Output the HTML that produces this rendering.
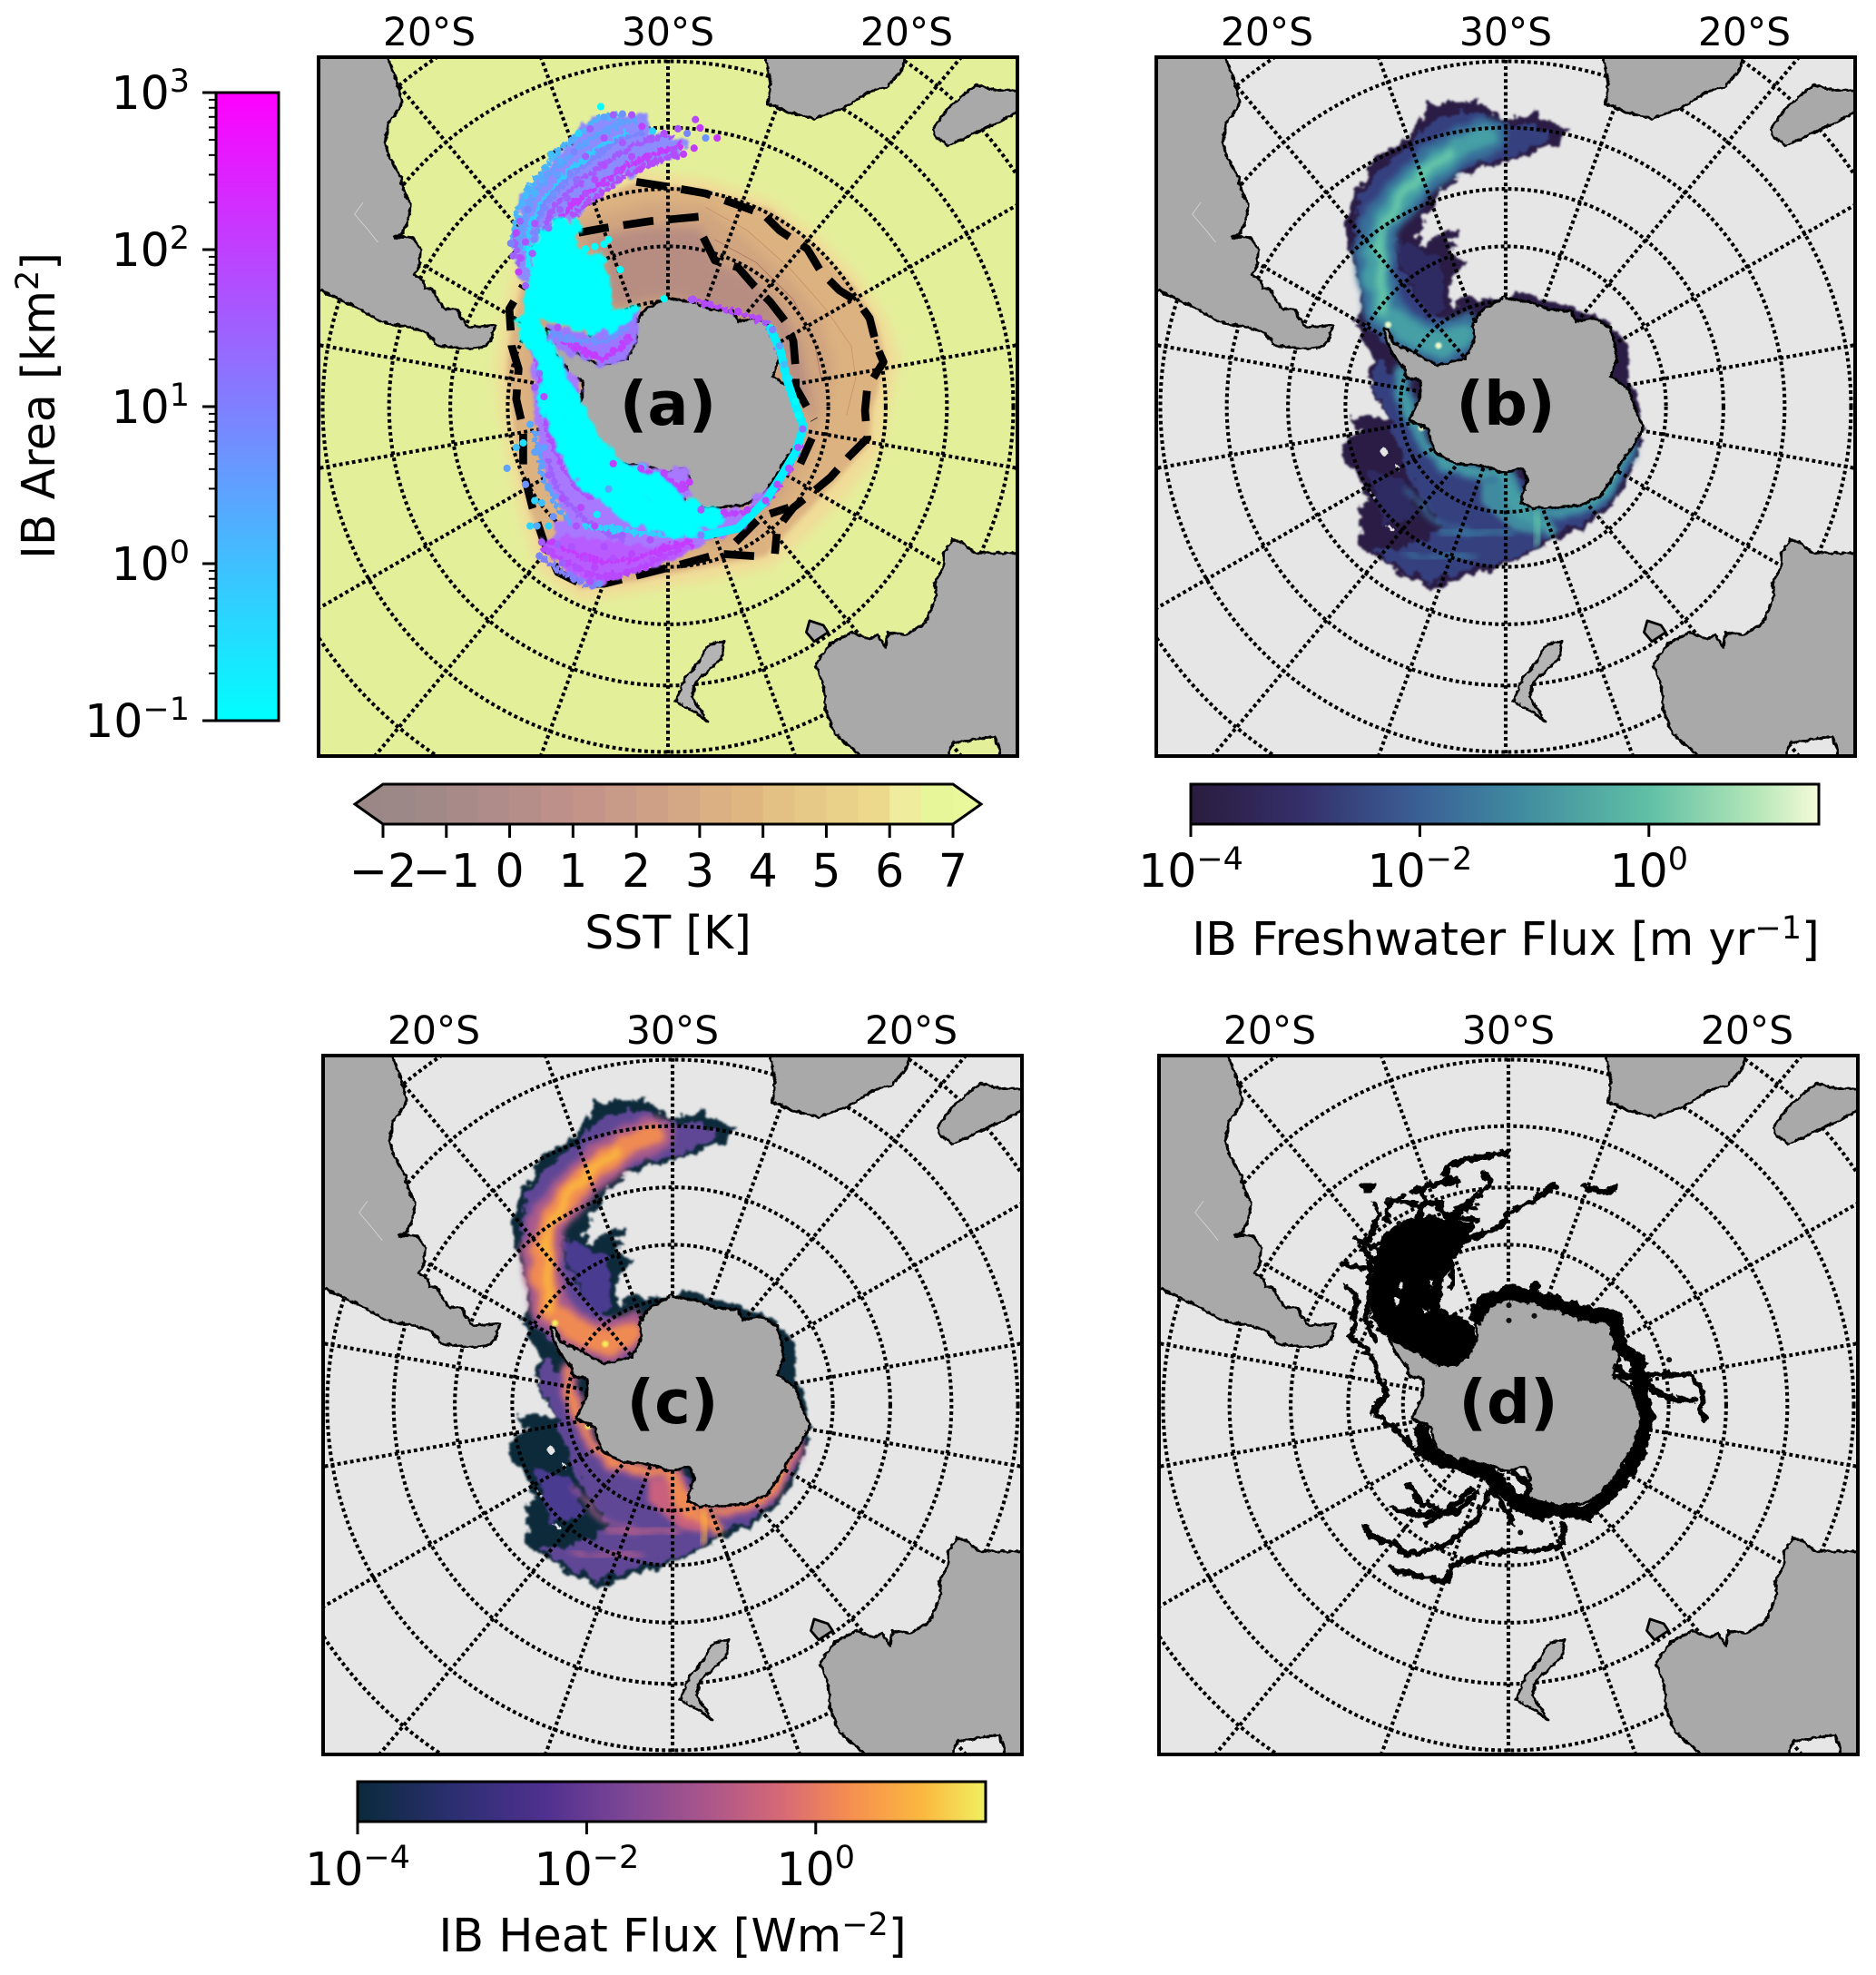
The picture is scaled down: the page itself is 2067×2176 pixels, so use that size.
<!DOCTYPE html>
<html lang="en">
<head>
<meta charset="utf-8">
<title>Iceberg maps</title>
<style>
html,body{margin:0;padding:0;background:#fff;}
svg{display:block;}
text{font-family:"DejaVu Sans","Liberation Sans",sans-serif;fill:#000;}
</style>
</head>
<body>
<svg id="fig" xmlns="http://www.w3.org/2000/svg" width="2067" height="2176" viewBox="0 0 2067 2176">
<defs>
<filter id="soft2" x="-20%" y="-20%" width="140%" height="140%"><feGaussianBlur stdDeviation="2.2"/></filter>
<filter id="soft6" x="-20%" y="-20%" width="140%" height="140%"><feGaussianBlur stdDeviation="6"/></filter>
<filter id="soft12" x="-20%" y="-20%" width="140%" height="140%"><feGaussianBlur stdDeviation="12"/></filter>
<filter id="rough-edge" x="-20%" y="-20%" width="140%" height="140%"><feTurbulence type="fractalNoise" baseFrequency=".045" numOctaves="4" seed="3" result="n"/><feDisplacementMap in="SourceGraphic" in2="n" scale="34" xChannelSelector="R" yChannelSelector="G"/><feGaussianBlur stdDeviation="2.2"/></filter>
<filter id="rough-core" x="-30%" y="-30%" width="160%" height="160%"><feTurbulence type="fractalNoise" baseFrequency=".02" numOctaves="3" seed="7" result="n"/><feDisplacementMap in="SourceGraphic" in2="n" scale="30" xChannelSelector="R" yChannelSelector="G"/><feGaussianBlur stdDeviation="7"/></filter>
<filter id="rough-track" x="-30%" y="-30%" width="160%" height="160%"><feTurbulence type="fractalNoise" baseFrequency=".06" numOctaves="3" seed="11" result="n"/><feDisplacementMap in="SourceGraphic" in2="n" scale="20" xChannelSelector="R" yChannelSelector="G"/></filter>
<filter id="rough-land" x="-10%" y="-10%" width="120%" height="120%"><feTurbulence type="fractalNoise" baseFrequency=".09" numOctaves="3" seed="5" result="n"/><feDisplacementMap in="SourceGraphic" in2="n" scale="9" xChannelSelector="R" yChannelSelector="G"/></filter>
<linearGradient id="area-gradient" x1="0" y1="1" x2="0" y2="0"><stop offset="0" stop-color="#00ffff"/><stop offset="1" stop-color="#ff00ff"/></linearGradient>
<linearGradient id="fresh-gradient" x1="0" y1="0" x2="1" y2="0">
<stop offset="0" stop-color="#2a1c3e"/><stop offset=".18" stop-color="#35306b"/><stop offset=".36" stop-color="#3a5f95"/><stop offset=".52" stop-color="#3f8aa0"/><stop offset=".73" stop-color="#60c0a5"/><stop offset=".9" stop-color="#b5e6b8"/><stop offset="1" stop-color="#f5fbd8"/>
</linearGradient>
<linearGradient id="heat-gradient" x1="0" y1="0" x2="1" y2="0">
<stop offset="0" stop-color="#0a2a3c"/><stop offset=".15" stop-color="#2b2f70"/><stop offset=".3" stop-color="#503090"/><stop offset=".42" stop-color="#7a4595"/><stop offset=".55" stop-color="#a8558c"/><stop offset=".68" stop-color="#d86a75"/><stop offset=".78" stop-color="#f58d50"/><stop offset=".9" stop-color="#fbb840"/><stop offset="1" stop-color="#f0f060"/>
</linearGradient>
</defs>

<text transform="translate(60,447) rotate(-90)" text-anchor="middle" font-size="50.5">IB Area [km<tspan font-size="35" dy="-18">2</tspan><tspan dy="18">]</tspan></text>
<text x="736" y="1045" text-anchor="middle" font-size="50.5">SST [K]</text>
<text x="1659" y="1052" text-anchor="middle" font-size="50.8">IB Freshwater Flux [m yr<tspan font-size="35" dy="-18">−1</tspan><tspan dy="18">]</tspan></text>
<text x="741" y="2150" text-anchor="middle" font-size="50.8">IB Heat Flux [Wm<tspan font-size="35" dy="-18">−2</tspan><tspan dy="18">]</tspan></text>
</svg>

<script>
// ---------- graticule data ----------
const graticuleLats = [-70, -60, -50, -40, -30, -20];
const graticuleLons = [0, 20, 40, 60, 80, 100, 120, 140, 160, 180, 200, 220, 240, 260, 280, 300, 320, 340];
const topLonLabels = ['20°S', '30°S', '20°S'];

// ---------- colour bar data ----------
const sstTicks = [-2, -1, 0, 1, 2, 3, 4, 5, 6, 7];
const sstSwatches = ['#9c8886','#a18987','#a88b89','#af8c8a','#b68e89','#bd9189','#c49489','#c89a88','#cea186','#d4a884','#dbb082','#dfb580','#e3c084','#e6c986','#e9d189','#ecd98c','#efec9d','#e8f69a'];
const areaExponents = [-1, 0, 1, 2, 3];
const fluxExponents = [-4, -2, 0];

// ---------- land outlines (projected map units, panel a reading) ----------
const landWest = [[-10,-10],[172,-10],[172,28],[185,60],[195,90],[203,120],[195,140],[175,165],[165,210],[175,240],[200,285],[205,310],[222,345],[215,385],[200,410],[185,415],[225,415],[243,440],[240,480],[228,495],[250,510],[250,525],[265,525],[295,570],[320,570],[345,610],[405,605],[395,640],[375,655],[330,655],[280,650],[260,625],[225,610],[190,605],[160,600],[110,570],[60,545],[-10,515]];
const landNorth = [[990,-10],[990,26],[1000,75],[995,125],[1040,145],[1095,158],[1160,135],[1215,100],[1250,90],[1285,55],[1297,-10]];
const landNorthEast = [[1352,180],[1385,135],[1445,85],[1490,97],[1560,97],[1560,130],[1505,160],[1385,217],[1355,195]];
const landSouthEast = [[1560,1100],[1440,1097],[1415,1075],[1395,1070],[1375,1100],[1375,1130],[1355,1165],[1360,1190],[1335,1250],[1295,1275],[1255,1270],[1250,1305],[1232,1275],[1215,1285],[1175,1270],[1130,1295],[1098,1340],[1115,1385],[1120,1440],[1140,1490],[1195,1537],[1195,1560],[1385,1560],[1385,1537],[1395,1510],[1485,1495],[1500,1537],[1500,1560],[1560,1560]];
const islandSmall = [[1085,1245],[1115,1255],[1125,1270],[1095,1290],[1078,1270]];
const islandLong = [[870,1295],[900,1290],[895,1325],[860,1360],[840,1375],[830,1410],[850,1440],[865,1465],[840,1445],[795,1420],[815,1370],[845,1335],[860,1305]];
const antarctica = [[730,570],[775,545],[830,555],[870,570],[920,575],[930,598],[970,590],[1005,610],[1015,650],[1020,680],[1005,715],[1045,745],[1060,790],[1075,825],[1060,860],[1030,900],[1010,935],[985,975],[940,995],[890,1000],[840,1000],[810,990],[825,940],[815,915],[770,925],[735,910],[670,905],[625,880],[610,830],[570,810],[590,770],[595,725],[565,720],[560,700],[535,670],[520,640],[515,612],[525,615],[535,645],[570,660],[630,692],[690,678],[710,640],[708,600]];
const glacierSliver = [[118,340],[100,365],[130,400],[150,425]];

// ---------- panel a: SST field and contours ----------
const sstHalo = [[600,330],[710,270],[860,290],[1000,335],[1100,410],[1190,500],[1250,590],[1280,680],[1255,790],[1240,880],[1160,980],[1070,1070],[1000,1130],[850,1160],[700,1185],[590,1205],[500,1140],[460,1020],[430,880],[405,700],[420,590],[450,470]];
const sstMain = [[600,345],[710,295],[860,315],[1000,355],[1090,430],[1180,520],[1230,600],[1250,685],[1220,790],[1215,860],[1135,950],[1050,1040],[990,1105],[850,1130],[700,1160],[590,1175],[520,1120],[480,1010],[450,880],[430,700],[440,600],[470,490]];
const sstMid = [[590,380],[740,340],[860,350],[950,420],[1040,500],[1110,590],[1140,690],[1120,790],[1095,860],[1040,960],[990,1040],[900,1080],[700,1060],[560,1000],[500,850],[480,700],[480,500]];
const sstCold = [[590,420],[740,390],[850,395],[885,470],[960,500],[1020,570],[1060,640],[1080,730],[1095,810],[1040,730],[1020,660],[1005,610],[870,570],[775,545],[650,570],[640,450]];
const sstContourA = [[860,350],[950,400],[1040,480],[1120,570],[1175,650],[1185,720],[1165,800]];
const sstContourB = [[880,420],[970,470],[1050,550],[1095,640],[1110,720]];
const dashOuterMain = [[710,295],[775,305],[860,320],[930,345],[985,365],[1020,400],[1080,440],[1110,490],[1150,530],[1190,555],[1215,590],[1230,650],[1245,685],[1210,740],[1205,790],[1210,850],[1170,890],[1130,935],[1100,960],[1050,1000],[1015,1045],[1010,1100]];
const dashOuterSouth = [[965,1105],[890,1100],[800,1125],[720,1145],[640,1165],[590,1165],[540,1140],[510,1075],[485,1000],[465,920],[465,830],[450,765],[455,700],[440,650],[435,570],[465,520]];
const dashInnerNorth = [[585,405],[640,395],[740,380],[850,370]];
const dashInnerEast = [[855,415],[880,465],[930,480],[965,520],[1000,555],[1035,600],[1050,640],[1055,700],[1055,740],[1095,810]];
const dashInnerSouth = [[1090,850],[1065,905]];
const dashInnerTail = [[925,1075],[980,1020],[1040,1000]];

// ---------- panel a: iceberg positions and areas ----------
const plumeBase = [[445,420],[460,340],[500,280],[560,210],[620,150],[730,150],[750,190],[830,210],[800,240],[720,270],[650,310],[600,345],[590,380],[530,370],[490,430],[480,520],[455,500]];
const cyanNorth = [[530,370],[590,380],[580,440],[640,455],[655,510],[655,570],[720,560],[700,590],[680,610],[640,625],[590,620],[540,600],[500,590],[470,610],[465,560],[480,500],[490,430]];
const southBase = [[478,615],[484,720],[490,800],[498,880],[520,950],[555,1020],[510,1075],[570,1150],[620,1165],[690,1145],[780,1115],[860,1075],[930,1050],[1000,985],[1030,930],[1060,880],[1000,960],[940,1000],[870,1005],[815,985],[830,940],[815,910],[770,920],[720,905],[660,900],[620,885],[600,835],[565,810],[585,770],[590,725],[560,700],[535,670],[515,640]];
const cyanSouth = [[510,730],[560,800],[600,880],[660,935],[720,960],[780,1005],[830,1020],[860,1060],[790,1062],[700,1040],[640,990],[590,960],[550,890],[520,830],[495,760]];
const cyanStripe = [[475,610],[510,660],[530,720],[575,790],[605,860],[660,915],[740,950],[800,1005],[870,1020]];
const cyanCoast = [[860,1060],[930,1045],[990,985],[1025,930],[1055,880],[1072,825],[1055,780],[1035,720],[1022,660],[1000,612]];
const purpleSouth = [[505,1075],[560,1060],[640,1070],[760,1085],[850,1075],[780,1115],[690,1145],[620,1165],[570,1150]];
const purplePeninsula = [[520,600],[600,625],[660,610],[720,565],[712,640],[690,680],[630,695],[565,665],[520,640]];
const iceRows = [
 [[440,425],[450,370],[470,320],[505,270],[545,225],[590,190],[630,155],[690,150]],
 [[455,430],[468,370],[490,320],[525,275],[570,235],[620,195],[670,170],[710,160]],
 [[470,440],[480,390],[505,340],[545,290],[590,250],[640,215],[690,190]],
 [[490,420],[500,365],[530,320],[570,280],[620,240],[670,205],[730,185]],
 [[510,400],[530,350],[570,310],[620,270],[680,230],[740,200],[790,195]],
 [[540,380],[575,340],[630,300],[690,260],[750,235],[810,215]],
 [[575,365],[620,330],[680,285],[740,255],[800,235]],
 [[490,500],[475,470],[480,440]],
 [[455,470],[450,440],[445,410]],
 [[510,1090],[560,1120],[620,1150],[680,1145],[740,1120],[810,1090]],
 [[525,1075],[580,1100],[640,1120],[710,1110],[780,1085],[840,1075]],
 [[500,1105],[540,1135],[590,1160],[630,1170]],
 [[520,900],[535,950],[570,1000],[615,1040],[680,1070]],
 [[490,840],[500,890],[510,940],[540,1000],[575,1040]],
 [[505,770],[520,840],[545,900],[575,950],[620,985]],
 [[630,890],[680,915],[730,925],[770,935],[810,960]],
 [[850,1008],[900,1015],[955,1010],[995,985],[1020,945],[1045,910],[1062,870]],
 [[830,550],[870,562],[925,578],[975,592]],
 [[990,600],[1012,640],[1020,670]],
 [[555,640],[600,665],[640,680],[680,650],[700,625]],
 [[530,625],[580,640],[640,640],[690,610]],
 [[600,1040],[680,1050],[760,1060],[840,1060]],
 [[735,925],[770,945],[800,970],[815,1000]],
 [[495,680],[505,730],[520,770],[545,820]]
];
const iceRowArea = [1.5,3,0.6,8,40,120,60,0.2,30,80,120,10,30,3,60,100,90,70,40,110,5,0.5,100,150];
const scatterX = [633,640,660,680,700,722,745,770,800,838,848,820,860,885,835,812,790,745,718,700,680,640,610,585,570,525,545,575,600,640,670,620,580,540,505,490,530,560,600,470,475,510,545,458,490,520,450,470,438,443,460,485,455,470,600,620,650,675,640,505,520,500,540,570,600,620,580,550,610,630,660,690,730,760,800,660,700,640,480,495,520,530,505,490,470,430,450,465,490,510,480,520,550,590,620,580,650,625,680,740,850,660,720,770,810,825,850,900,950,990,1015,1040,1060,1070,770,830,870,930,975,1005,1020,1030,1040,1055,1060,580,620,660,690,540,500,490,510];
const scatterY = [132,155,150,148,150,175,185,190,180,160,178,190,200,200,222,235,225,255,268,240,210,200,180,190,205,235,250,230,240,260,270,290,290,280,290,320,320,330,320,325,355,350,355,380,385,395,405,425,428,455,460,450,490,520,440,435,420,485,430,1075,1095,1105,1080,1085,1110,1130,1130,1120,1160,1165,1150,1140,1130,1100,1090,1110,1100,1085,1040,1040,1040,1020,990,985,950,915,870,860,880,870,820,930,980,1000,1040,1040,960,1015,1060,1070,1060,905,915,925,950,945,1005,1010,1005,985,950,915,870,830,548,550,560,575,590,615,650,690,720,770,800,650,670,660,640,610,710,740,760];
const scatterArea = [0.1,3,30,5,50,100,0.5,60,50,80,120,8,5,130,120,100,60,70,90,60,40,50,30,0.5,2,1,2,8,30,60,70,70,20,3,2,1.5,5,30,70,1,8,8,30,30,50,20,80,50,8,30,60,40,100,30,0.1,0.1,0.1,0.1,0.1,40,60,8,30,50,70,80,60,30,60,5,70,80,80,100,100,60,80,60,0.5,2,0.5,5,1,0.5,5,3,1,0.3,3,3,2,30,50,80,70,50,3,0.2,30,60,10,100,90,80,100,120,50,90,80,70,60,50,30,20,0.1,40,60,80,70,8,3,1,0.2,0.1,0.1,100,120,110,70,50,20,30,60];

// ---------- panels b and c: time-mean flux field outlines ----------
const fluxOutline = [[925,180],[880,175],[850,140],[820,155],[775,165],[745,140],[720,115],[680,125],[620,125],[610,155],[570,195],[530,225],[500,245],[480,290],[455,320],[440,370],[435,420],[455,470],[470,530],[470,570],[455,605],[480,640],[495,680],[485,720],[505,770],[530,810],[480,800],[440,805],[470,830],[440,850],[425,880],[445,910],[470,950],[490,985],[460,1010],[475,1040],[460,1085],[510,1110],[560,1150],[630,1175],[700,1150],[780,1125],[840,1095],[900,1065],[960,1040],[1010,1000],[1040,950],[1070,880],[1080,820],[1070,770],[1050,720],[1045,650],[1020,610],[985,590],[930,570],[870,550],[800,530],[790,545],[730,545],[690,550],[665,570],[655,530],[665,500],[700,470],[680,460],[660,440],[680,405],[650,400],[600,440],[590,410],[610,370],[640,320],[700,275],[780,255],[860,225],[900,205]];
const fluxUpperMid = [[890,190],[820,170],[780,175],[700,140],[640,150],[580,210],[510,265],[470,330],[450,400],[480,510],[490,570],[480,610],[520,640],[570,660],[630,690],[690,675],[710,640],[700,600],[640,590],[580,530],[545,450],[540,400],[570,340],[640,290],[700,260],[800,240],[860,215]];
const fluxLowerMid = [[510,680],[550,720],[580,760],[570,810],[610,860],[630,890],[720,920],[800,925],[825,960],[815,990],[880,1000],[930,1000],[985,975],[1010,940],[1040,880],[1065,840],[1050,910],[1000,990],[950,1035],[880,1060],[840,1090],[780,1115],[700,1135],[620,1160],[550,1130],[490,1090],[540,1090],[620,1070],[640,1030],[600,980],[570,920],[550,860],[520,790],[490,730]];
const fluxInnerLobe = [[545,420],[590,440],[640,460],[650,560],[620,590],[590,540],[560,480]];
const fluxLowerLobe = [[480,920],[560,940],[600,1020],[520,1040]];
const fluxUpperCore = [[745,195],[690,215],[625,258],[565,318],[520,372],[500,430],[502,485],[510,535],[515,575],[565,615],[640,650],[690,625]];
const fluxUpperBright = [[660,232],[612,268],[565,320],[520,385],[505,440],[512,520],[518,575]];
const fluxCoastCore = [[550,700],[575,790],[600,850],[650,905],[730,930],[790,930],[800,970],[835,1005],[900,1012],[960,1000],[1000,960],[1025,920],[1050,870]];
const fluxShelfPatch = [[730,925],[800,925],[820,985],[860,1005],[860,1060],[800,1050],[730,990]];
const fluxShelfCore = [[780,940],[800,990],[850,1030],[880,1050]];
const fluxStreakA = [[850,1005],[855,1045],[845,1078]];
const fluxStreakB = [[640,1060],[720,1060],[790,1050]];
const fluxStreakC = [[570,960],[640,1040],[700,1060]];
const fluxStreakD = [[560,1100],[640,1110],[720,1105]];
const fluxHotSpotX = [528,637,600,1012];
const fluxHotSpotY = [605,650,828,930];
const fluxHoles = [[[515,870],[528,875],[524,886],[512,884]],[[520,1038],[540,1042],[535,1050]],[[545,905],[553,910],[549,920],[542,917]],[[490,965],[505,978],[495,984]]];

// ---------- panel d: iceberg tracks ----------
const trackBlob = [[520,410],[560,380],[620,370],[680,385],[720,385],[690,430],[665,470],[650,520],[640,570],[690,590],[720,620],[715,660],[680,695],[640,700],[590,670],[540,645],[510,620],[490,590],[495,520],[500,460]];
const trackGaps = [[[552,515],[562,518],[558,530],[550,528]],[[540,552],[550,555],[546,567],[538,562]],[[604,570],[618,575],[608,582]],[[618,510],[625,514],[621,526]]];
const trackRing = [[720,590],[740,555],[790,540],[845,545],[870,555],[950,580],[1020,590],[1030,650],[1070,690],[1075,750],[1090,810],[1075,870],[1050,920],[1010,970],[960,1015],[900,1010],[850,1005],[800,985],[750,930],[700,915],[640,900],[610,870],[600,840]];
const trackList = [
 [[790,232],[740,245],[715,245],[660,262],[650,280],[680,300]],
 [[735,280],[750,300],[720,330],[690,350],[650,385]],
 [[890,305],[840,340],[790,365],[770,395],[720,415],[680,430],[650,450]],
 [[950,305],[985,318],[1000,322],[1020,310]],
 [[470,305],[495,305],[480,318]],
 [[580,320],[610,305],[670,295]],
 [[430,475],[470,485],[510,490]],
 [[500,350],[510,370],[495,395]],
 [[560,340],[600,350],[640,340]],
 [[460,420],[490,440],[520,430]],
 [[560,330],[530,345],[525,380]],
 [[600,310],[610,340],[590,380]],
 [[640,350],[660,380],[700,375],[725,385]],
 [[670,370],[700,355],[720,350]],
 [[500,400],[480,430],[470,440],[500,470]],
 [[490,470],[490,540],[480,600],[500,640]],
 [[680,440],[700,420],[690,400]],
 [[665,470],[670,520],[660,525]],
 [[1020,720],[1100,715],[1180,715],[1210,750],[1205,790],[1215,815]],
 [[1090,740],[1140,770],[1190,770]],
 [[1020,700],[1060,720],[1090,730]],
 [[440,525],[460,550],[455,610],[445,630],[490,670],[510,720],[525,760],[495,795],[540,830],[590,880],[620,900]],
 [[575,955],[600,995],[640,1005]],
 [[540,1005],[600,1020],[680,1010],[720,970]],
 [[610,1040],[680,990],[710,960]],
 [[480,1045],[490,1065],[540,1080],[570,1105],[650,1085],[720,1030],[745,970]],
 [[535,1135],[590,1150],[650,1165],[670,1130],[730,1105],[800,1095],[850,1095]],
 [[910,1040],[905,1085],[860,1095]],
 [[745,950],[790,1020],[800,1040]],
 [[770,930],[800,1000],[860,1025]],
 [[800,925],[835,960],[830,1000]],
 [[820,545],[850,520],[845,540]]
];
const trackExtraX = [815,790,790,845,1137,528,552];
const trackExtraY = [1057,565,598,588,683,337,388];

// ---------- panel layout ----------
const NS = 'http://www.w3.org/2000/svg';
const fig = document.getElementById('fig');
const PANEL_SIZE = 770;
const MAP_SCALE = PANEL_SIZE / 1513;
const STEREO_K = 1295;
const panels = {
  a: {cx: 736, cy: 448, ox: 778.5, oy: 781.5, sea: '#e4ef9a'},
  b: {cx: 1659, cy: 448, ox: 782.5, oy: 782, sea: '#e6e6e6'},
  c: {cx: 741, cy: 1548, ox: 786, oy: 781, sea: '#e6e6e6'},
  d: {cx: 1662, cy: 1548, ox: 789, oy: 781, sea: '#e6e6e6'}
};

function mk(parent, tag, attrs) {
  const el = document.createElementNS(NS, tag);
  for (const k in attrs) el.setAttribute(k, attrs[k]);
  parent.appendChild(el);
  return el;
}
// axis functions: map readings -> panel-local units
function mapX(v, p) { return v - p.ox; }
function mapY(v, p) { return v - p.oy; }
function pathOf(pts, p, closed) {
  let d = '';
  pts.forEach((pt, i) => {
    d += (i ? 'L' : 'M') + mapX(pt[0], p).toFixed(1) + ' ' + mapY(pt[1], p).toFixed(1);
  });
  return d + (closed ? 'Z' : '');
}
function polarRadius(lat) { return STEREO_K * Math.tan((90 + lat) / 2 * Math.PI / 180); }
function fillShape(g, pts, p, fill, name, filter) {
  const el = mk(g, 'path', {d: pathOf(pts, p, true), fill: fill});
  if (filter) el.setAttribute('filter', 'url(#' + filter + ')');
  
  
  return el;
}
function strokeShape(g, pts, p, stroke, width, name, extra) {
  const el = mk(g, 'path', {d: pathOf(pts, p, false), fill: 'none', stroke: stroke, 'stroke-width': width, 'stroke-linecap': 'round', 'stroke-linejoin': 'round'});
  if (extra) for (const k in extra) el.setAttribute(k, extra[k]);
  
  
  return el;
}

function makePanel(id) {
  const p = panels[id];
  const clip = mk(fig.querySelector('defs'), 'clipPath', {id: 'clip-' + id});
  mk(clip, 'rect', {x: -756.5, y: -756.5, width: 1513, height: 1513});
  const wrap = mk(fig, 'g', {transform: 'translate(' + p.cx + ' ' + p.cy + ') scale(' + MAP_SCALE + ')'});
  
  
  const g = mk(wrap, 'g', {'clip-path': 'url(#clip-' + id + ')'});
  const sea = mk(g, 'rect', {x: -757, y: -757, width: 1514, height: 1514, fill: p.sea});
  
  
  p.g = g;
  return p;
}
function drawGraticule(p) {
  const grid = mk(p.g, 'g', {fill: 'none', stroke: '#000', 'stroke-width': 8, 'stroke-dasharray': '7.5 6.5'});
  
  
  graticuleLats.forEach(lat => {
    const c = mk(grid, 'circle', {cx: 0, cy: 0, r: polarRadius(lat)});
    
    
  });
  graticuleLons.forEach(lon => {
    const a = lon * Math.PI / 180;
    const r0 = polarRadius(-80), r1 = polarRadius(-10);
    const l = mk(grid, 'line', {x1: r0 * Math.sin(a), y1: -r0 * Math.cos(a), x2: r1 * Math.sin(a), y2: -r1 * Math.cos(a)});
    
    
  });
}
function drawLand(p) {
  const land = mk(p.g, 'g', {fill: '#a9a9a9', stroke: '#000', 'stroke-width': 5.5, 'stroke-linejoin': 'round'});
  
  
  const base = {ox: panels.a.ox, oy: panels.a.oy};
  fillShape(land, landWest, base, '#a9a9a9', 'south-america-land', 'rough-land');
  fillShape(land, landNorth, base, '#a9a9a9', 'africa-land', 'rough-land');
  fillShape(land, landNorthEast, base, '#a9a9a9', 'madagascar-land', 'rough-land');
  fillShape(land, landSouthEast, base, '#a9a9a9', 'australia-land', 'rough-land');
  fillShape(land, islandSmall, base, '#a9a9a9', 'tasmania-land');
  fillShape(land, islandLong, base, '#b4b4b4', 'new-zealand-land', 'rough-land');
  fillShape(land, antarctica, base, '#a9a9a9', 'antarctica-land', 'rough-land');
  strokeShape(p.g, glacierSliver, base, '#d8d8d8', 1.6, 'land-sliver');
}
function drawPanelFrame(p, letter) {
  const half = PANEL_SIZE / 2;
  const frame = mk(fig, 'rect', {x: p.cx - half, y: p.cy - half, width: PANEL_SIZE, height: PANEL_SIZE, fill: 'none', stroke: '#000', 'stroke-width': 4});
  
  
  const t = mk(fig, 'text', {x: p.cx, y: p.cy + 20, 'text-anchor': 'middle', 'font-size': 67, 'font-weight': 'bold'});
  t.textContent = '(' + letter + ')';
  
  
  [-263, 0, 263].forEach((dx, i) => {
    const lab = mk(fig, 'text', {x: p.cx + dx, y: p.cy - half - 13, 'text-anchor': 'middle', 'font-size': 42.5});
    lab.textContent = topLonLabels[i];
    
    
  });
}

// ---------- panel a ----------
function coolColor(area) {
  const t = Math.max(0, Math.min(1, (Math.log10(area) + 1) / 4));
  return 'rgb(' + Math.round(255 * t) + ',' + Math.round(255 * (1 - t)) + ',255)';
}
(function () {
  const p = makePanel('a');
  fillShape(p.g, sstHalo, p, '#f0dc98', 'sst-halo', 'soft12');
  fillShape(p.g, sstMain, p, '#dcb281', 'sst-field', 'soft6');
  fillShape(p.g, sstMid, p, '#d0a57f', 'sst-field-mid', 'soft12');
  fillShape(p.g, sstCold, p, '#b78d82', 'sst-field-cold', 'soft12');
  strokeShape(p.g, sstContourA, p, '#c98f60', 1.5, 'sst-contour');
  strokeShape(p.g, sstContourB, p, '#a97060', 1.5, 'sst-contour');
  drawGraticule(p);
  const dash = {'stroke-dasharray': '66 32', 'stroke-linecap': 'butt'};
  [dashOuterMain, dashOuterSouth, dashInnerNorth, dashInnerEast, dashInnerSouth, dashInnerTail].forEach(line => {
    strokeShape(p.g, line, p, '#000', 17, 'sst-dashed-contour', dash);
  });
  drawLand(p);
  fillShape(p.g, plumeBase, p, '#8d8cff', 'iceberg-plume-base', 'rough-edge');
  fillShape(p.g, southBase, p, '#a878ff', 'iceberg-south-base', 'rough-edge');
  fillShape(p.g, purpleSouth, p, '#b85cff', 'iceberg-large-south-base', 'rough-edge');
  fillShape(p.g, purplePeninsula, p, '#9a78ff', 'iceberg-peninsula-base', 'rough-edge');
  iceRows.forEach((row, i) => {
    const r = strokeShape(p.g, row, p, coolColor(iceRowArea[i]), 15, 'iceberg-row', {'stroke-dasharray': '0 15'});
    r.setAttribute('filter', 'url(#rough-track)');
  });
  fillShape(p.g, cyanNorth, p, '#00ffff', 'iceberg-small-north', 'rough-edge');
  fillShape(p.g, cyanSouth, p, '#00ffff', 'iceberg-small-south', 'rough-edge');
  const stripe = strokeShape(p.g, cyanStripe, p, '#00ffff', 52, 'iceberg-small-stripe');
  stripe.setAttribute('filter', 'url(#rough-edge)');
  strokeShape(p.g, cyanCoast, p, '#00f0ff', 18, 'iceberg-small-coast');
  scatterX.forEach((x, i) => {
    const dot = mk(p.g, 'circle', {cx: mapX(x, p), cy: mapY(scatterY[i], p), r: 8, fill: coolColor(scatterArea[i])});
    
    
  });
  drawPanelFrame(p, 'a');
})();

// ---------- panels b and c ----------
function drawFlux(id, letter, pal) {
  const p = makePanel(id);
  const fieldBase = {ox: panels.b.ox, oy: panels.b.oy};
  fillShape(p.g, fluxOutline, fieldBase, pal.dark, 'flux-field-edge', 'rough-edge');
  fluxHoles.forEach(hole => {
    fillShape(p.g, hole, fieldBase, p.sea, 'flux-field-gap', 'rough-track');
  });
  fillShape(p.g, fluxUpperMid, fieldBase, pal.mid, 'flux-upper-arm', 'rough-edge');
  fillShape(p.g, fluxLowerMid, fieldBase, pal.mid, 'flux-lower-arm', 'rough-edge');
  fillShape(p.g, fluxInnerLobe, fieldBase, pal.lobe, 'flux-inner-lobe', 'rough-edge');
  fillShape(p.g, fluxLowerLobe, fieldBase, pal.lobe, 'flux-lower-lobe', 'rough-edge');
  fillShape(p.g, fluxShelfPatch, fieldBase, pal.shelf, 'flux-shelf', 'soft6');
  const strokes = [
    [fluxUpperCore, pal.c1, 82], [fluxUpperCore, pal.c2, 46], [fluxUpperBright, pal.c3, 18],
    [fluxCoastCore, pal.c1, 32], [fluxCoastCore, pal.c2, 15], [fluxShelfCore, pal.c2, 30],
    [fluxStreakA, pal.c3, 9], [fluxStreakB, pal.c1, 16], [fluxStreakC, pal.c1, 10], [fluxStreakD, pal.c1, 14]
  ];
  strokes.forEach(s => {
    const el = strokeShape(p.g, s[0], fieldBase, s[1], s[2], 'flux-core');
    el.setAttribute('filter', 'url(#rough-core)');
  });
  drawGraticule(p);
  fluxHotSpotX.forEach((x, i) => {
    const spot = mk(p.g, 'circle', {cx: x - fieldBase.ox, cy: fluxHotSpotY[i] - fieldBase.oy, r: 7, fill: pal.hot});
    spot.setAttribute('filter', 'url(#soft2)');
    
    
  });
  drawLand(p);
  drawPanelFrame(p, letter);
}
drawFlux('b', 'b', {dark: '#2a1f45', mid: '#34407f', lobe: '#2e2b62', shelf: '#3f8aa0', c1: '#38709a', c2: '#459fa5', c3: '#66c8a8', hot: '#eefac8'});
drawFlux('c', 'c', {dark: '#0c2a3a', mid: '#5f4696', lobe: '#4a3a90', shelf: '#c8607e', c1: '#a85a8c', c2: '#f08a52', c3: '#fbb53e', hot: '#f4f05a'});

// ---------- panel d ----------
(function () {
  const p = makePanel('d');
  drawGraticule(p);
  drawLand(p);
  const local = {ox: p.ox, oy: p.oy};
  fillShape(p.g, trackBlob, local, '#000', 'track-cluster', 'rough-track');
  trackGaps.forEach(gap => {
    fillShape(p.g, gap, local, '#e6e6e6', 'track-cluster-gap', 'rough-track');
  });
  const ring = strokeShape(p.g, trackRing, local, '#000', 32, 'track-coastal-ring');
  ring.setAttribute('filter', 'url(#rough-track)');
  trackList.forEach(line => {
    const t = strokeShape(p.g, line, local, '#000', 13, 'iceberg-track');
    t.setAttribute('filter', 'url(#rough-track)');
  });
  trackExtraX.forEach((x, i) => {
    const dot = mk(p.g, 'circle', {cx: mapX(x, local), cy: mapY(trackExtraY[i], local), r: 6, fill: '#111'});
    
    
  });
  drawPanelFrame(p, 'd');
})();

// ---------- colour bars ----------
function tickMark(x1, y1, x2, y2, w) {
  const t = mk(fig, 'line', {x1: x1, y1: y1, x2: x2, y2: y2, stroke: '#000', 'stroke-width': w});
  
  
}
function powerLabel(x, y, exp, anchor) {
  const t = mk(fig, 'text', {x: x, y: y, 'text-anchor': anchor, 'font-size': 50.5});
  const base = mk(t, 'tspan', {});
  base.textContent = '10';
  const sup = mk(t, 'tspan', {'font-size': 35, dy: -19});
  sup.textContent = String(exp).replace('-', '−');
  
  
}
// area colour bar (log axis)
(function () {
  const x0 = 238, x1 = 307, yTop = 102, yBot = 794;
  const r = mk(fig, 'rect', {x: x0, y: yTop, width: x1 - x0, height: yBot - yTop, fill: 'url(#area-gradient)', stroke: '#000', 'stroke-width': 3});
  
  
  const yOf = e => yBot - (e + 1) / 4 * (yBot - yTop);
  areaExponents.forEach(e => {
    tickMark(223, yOf(e), x0, yOf(e), 3);
    powerLabel(209, yOf(e) + 18, e, 'end');
    if (e < 3) for (let m = 2; m < 10; m++) tickMark(230, yOf(e + Math.log10(m)), x0, yOf(e + Math.log10(m)), 2);
  });
})();
// SST colour bar
(function () {
  const x0 = 422, x1 = 1050, y0 = 864, y1 = 908, tip = 31;
  const xOf = v => x0 + (v + 2) / 9 * (x1 - x0);
  const left = mk(fig, 'polygon', {points: x0 + ',' + y0 + ' ' + (x0 - tip) + ',' + (y0 + y1) / 2 + ' ' + x0 + ',' + y1, fill: '#9b8886'});
  
  
  const right = mk(fig, 'polygon', {points: x1 + ',' + y0 + ' ' + (x1 + tip) + ',' + (y0 + y1) / 2 + ' ' + x1 + ',' + y1, fill: '#e8f89a'});
  
  
  sstSwatches.forEach((c, i) => {
    const s = mk(fig, 'rect', {x: xOf(-2 + i / 2), y: y0, width: (x1 - x0) / 18 + .5, height: y1 - y0, fill: c});
    
    
  });
  const o = mk(fig, 'polygon', {points: x0 + ',' + y0 + ' ' + x1 + ',' + y0 + ' ' + (x1 + tip) + ',' + (y0 + y1) / 2 + ' ' + x1 + ',' + y1 + ' ' + x0 + ',' + y1 + ' ' + (x0 - tip) + ',' + (y0 + y1) / 2, fill: 'none', stroke: '#000', 'stroke-width': 3});
  
  
  sstTicks.forEach(v => {
    tickMark(xOf(v), y1, xOf(v), y1 + 15, 3);
    const t = mk(fig, 'text', {x: xOf(v), y: 977, 'text-anchor': 'middle', 'font-size': 50.5});
    t.textContent = String(v).replace('-', '−');
    
    
  });
})();
// flux colour bars
function fluxBar(x0, x1, y0, y1, grad, name, labelY) {
  const r = mk(fig, 'rect', {x: x0, y: y0, width: x1 - x0, height: y1 - y0, fill: 'url(#' + grad + ')', stroke: '#000', 'stroke-width': 3});
  
  
  const decade = (x1 - x0) * 91 / 499;
  const xOf = e => x0 + (e + 4) * decade;
  fluxExponents.forEach(e => {
    tickMark(xOf(e), y1, xOf(e), y1 + 14, 3);
    powerLabel(xOf(e), labelY, e, 'middle');
  });
}
fluxBar(1312, 2004, 864, 908, 'fresh-gradient', 'freshwater-colorbar', 977);
fluxBar(394, 1086, 1963, 2007, 'heat-gradient', 'heat-colorbar', 2077);
</script>
</body>
</html>
